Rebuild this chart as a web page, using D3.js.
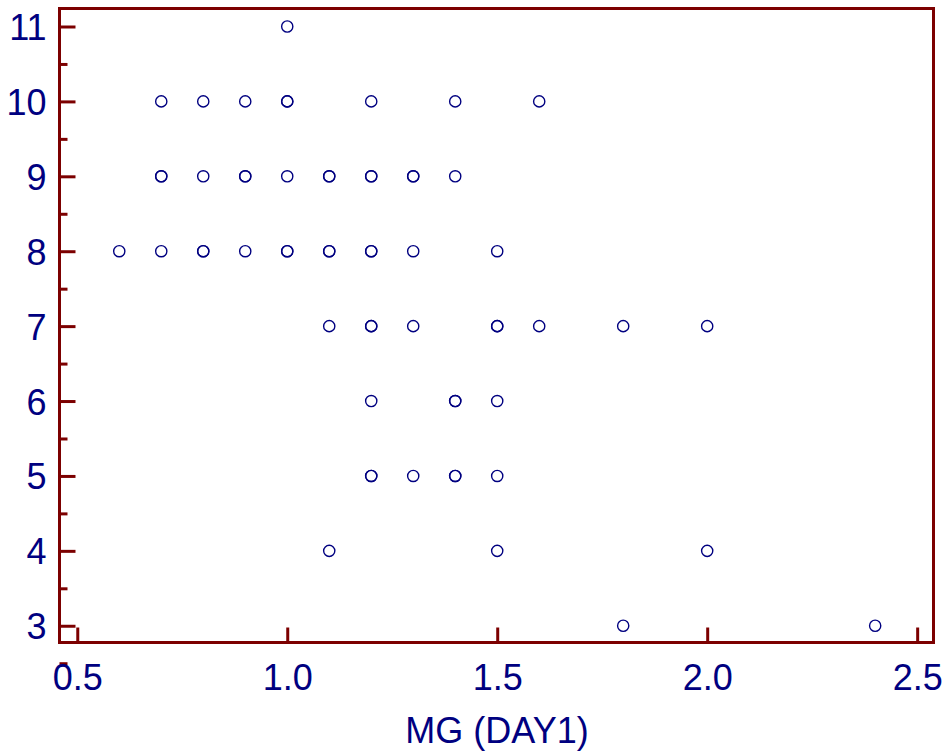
<!DOCTYPE html>
<html>
<head>
<meta charset="utf-8">
<script src="https://cdn.jsdelivr.net/npm/d3@7"></script>
<style>
  html, body { margin: 0; padding: 0; background: #fff; }
  svg { display: block; }
  text { font-family: "Liberation Sans", Arial, sans-serif; }
</style>
</head>
<body>
<svg id="chart" width="944" height="751"></svg>
<script>
// MG (DAY1) values and the paired y values (duplicates repeated)
const mgValues = [
  1.0,
  0.7, 0.8, 0.9, 1.0, 1.0, 1.2, 1.4, 1.6,
  0.7, 0.7, 0.8, 0.9, 0.9, 1.0, 1.1, 1.1, 1.2, 1.2, 1.3, 1.3, 1.4,
  0.6, 0.7, 0.8, 0.8, 0.9, 1.0, 1.0, 1.1, 1.1, 1.2, 1.2, 1.3, 1.5,
  1.1, 1.2, 1.2, 1.3, 1.5, 1.5, 1.6, 1.8, 2.0,
  1.2, 1.4, 1.4, 1.5,
  1.2, 1.2, 1.3, 1.4, 1.4, 1.5,
  1.1, 1.5, 2.0,
  1.8, 2.4
];
const yValues = [
  11,
  10, 10, 10, 10, 10, 10, 10, 10,
  9, 9, 9, 9, 9, 9, 9, 9, 9, 9, 9, 9, 9,
  8, 8, 8, 8, 8, 8, 8, 8, 8, 8, 8, 8, 8,
  7, 7, 7, 7, 7, 7, 7, 7, 7,
  6, 6, 6, 6,
  5, 5, 5, 5, 5, 5,
  4, 4, 4,
  3, 3
];
const xTickValues = [0.5, 1.0, 1.5, 2.0, 2.5];
const yTickValues = [3, 4, 5, 6, 7, 8, 9, 10, 11];
const yMinorTickValues = [2.5, 3.5, 4.5, 5.5, 6.5, 7.5, 8.5, 9.5, 10.5];
const xTitle = "MG (DAY1)";

const frameColor = "#7c0000";
const textColor = "#000080";
const pointColor = "#000080";

const svg = d3.select("#chart");
const pLeft = 59.5, pRight = 933.5, pTop = 8.5, pBottom = 642.5;

const x = d3.scaleLinear().domain([0.4577, 2.5389]).range([pLeft, pRight]);
const y = d3.scaleLinear().domain([2.7764, 11.2403]).range([pBottom, pTop]);

// frame
svg.append("rect")
  .attr("x", pLeft).attr("y", pTop)
  .attr("width", pRight - pLeft).attr("height", pBottom - pTop)
  .attr("fill", "none").attr("stroke", frameColor).attr("stroke-width", 3);

function styleAxis(g) {
  g.select(".domain").remove();
  g.selectAll(".tick line").attr("stroke", frameColor).attr("stroke-width", 3);
  g.selectAll(".tick text")
    .attr("fill", textColor)
    .style("font-size", "36px")
    .style("font-family", "'Liberation Sans', Arial, sans-serif");
}

// y minor ticks
svg.append("g")
  .attr("transform", `translate(${pLeft},0)`)
  .call(d3.axisLeft(y).tickValues(yMinorTickValues).tickSize(-8).tickFormat(""))
  .call(styleAxis);

// y major ticks
svg.append("g")
  .attr("transform", `translate(${pLeft},0)`)
  .call(d3.axisLeft(y).tickValues(yTickValues).tickSizeInner(-16).tickSizeOuter(0)
        .tickPadding(13).tickFormat(d3.format("d")))
  .call(styleAxis)
  .call(g => g.selectAll(".tick text").attr("dy", "0.36em"));

// x major ticks
svg.append("g")
  .attr("transform", `translate(0,${pBottom})`)
  .call(d3.axisBottom(x).tickValues(xTickValues).tickSizeInner(-15).tickSizeOuter(0)
        .tickPadding(0).tickFormat(d3.format(".1f")))
  .call(styleAxis)
  .call(g => g.selectAll(".tick text").attr("y", 47.5).attr("dy", "0"));

// points
svg.append("g")
  .selectAll("circle")
  .data(mgValues.map((v, i) => [v, yValues[i]]))
  .join("circle")
  .attr("cx", d => x(d[0]))
  .attr("cy", d => y(d[1]))
  .attr("r", 5.6)
  .attr("fill", "none")
  .attr("stroke", pointColor)
  .attr("stroke-width", 1.4);

// x title
svg.append("text")
  .attr("x", 497).attr("y", 743)
  .attr("text-anchor", "middle")
  .attr("fill", textColor)
  .style("font-size", "36px")
  .text(xTitle);
</script>
</body>
</html>
